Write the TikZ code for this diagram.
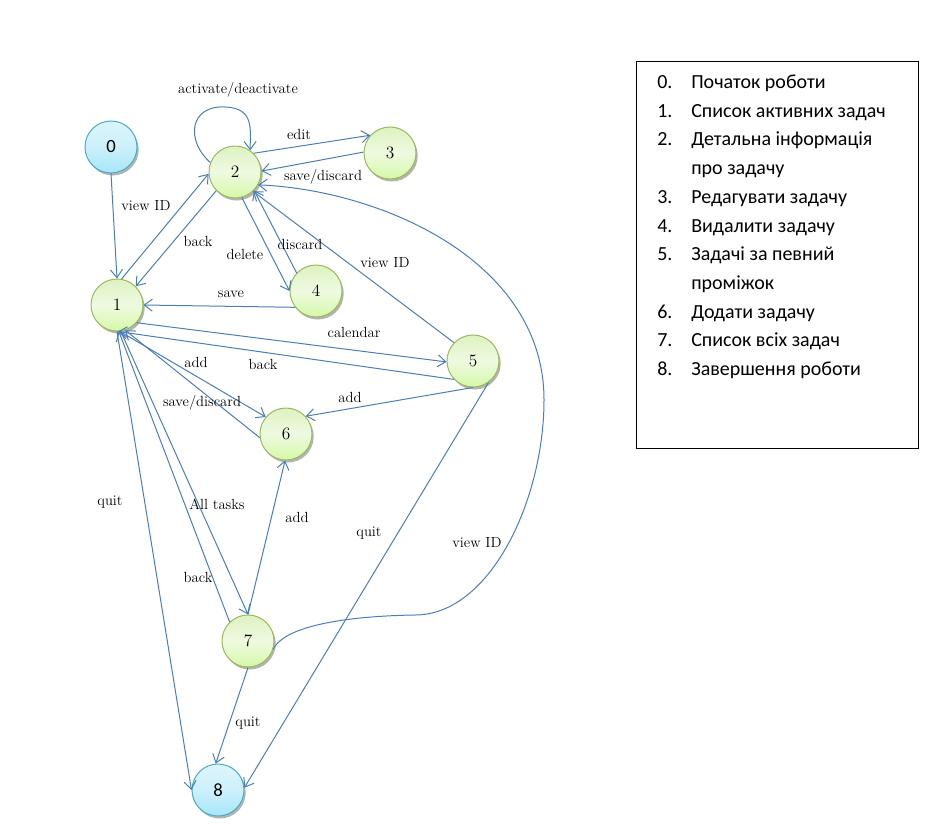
\documentclass[tikz,border=0pt]{standalone}
\usepackage{fontspec}
\newfontfamily\legendfont{Carlito}
\usetikzlibrary{arrows.meta,shadows}
\definecolor{edgeblue}{HTML}{4A7EBB}
\definecolor{gborder}{HTML}{9BBB59}
\definecolor{bborder}{HTML}{4BACC6}
\definecolor{gtop}{HTML}{DDF2C2}
\definecolor{gmid}{HTML}{EEFAE0}
\definecolor{gbot}{HTML}{D6F8A8}
\definecolor{btop}{HTML}{DDF5FC}
\definecolor{bmid}{HTML}{CDF0FB}
\definecolor{bbot}{HTML}{A6E6F9}
\tikzset{
  state/.style={circle, minimum size=39pt, inner sep=0pt, line width=0.75pt,
    font=\fontsize{13}{15}\selectfont,
    drop shadow={shadow xshift=1.3pt, shadow yshift=-1.9pt, fill=black!50, opacity=0.6}},
  gstate/.style={state, draw=gborder, top color=gtop, bottom color=gbot, middle color=gmid},
  bstate/.style={state, draw=bborder, top color=btop, bottom color=bbot, middle color=bmid,
    font=\legendfont\fontsize{14}{16}\selectfont},
  conn/.style={draw=edgeblue, line width=0.75pt, -{Straight Barb[length=6pt,width=9pt]}},
  lbl/.style={font=\fontsize{11}{13}\selectfont, inner sep=0pt},
  legtext/.style={font=\legendfont\fontsize{15}{18}\selectfont, inner sep=0pt, anchor=base west}
}
\begin{document}
\begin{tikzpicture}[x=0.75pt,y=-0.75pt]
\useasboundingbox (0,0) rectangle (941,838);
% states
\node[bstate] (n0) at (111,147) {0};
\node[gstate] (n1) at (117,305) {1};
\node[gstate] (n2) at (235,172) {2};
\node[gstate] (n3) at (390,153) {3};
\node[gstate] (n4) at (316,291) {4};
\node[gstate] (n5) at (473,361) {5};
\node[gstate] (n6) at (286,434) {6};
\node[gstate] (n7) at (248,641) {7};
\node[bstate] (n8) at (218,790) {8};
% connectors
\draw[conn] (n0.-90) -- (n1.90);
\draw[conn] (n1.80) -- (n2.184);
\draw[conn] (n2.225) -- (n1.45);
\draw[conn] (n2.-75) -- (n4.180);
\draw[conn] (n4.137) -- (n2.-44);
\draw[conn] (n2.159) .. controls (185,140) and (190,105) .. (225,107) .. controls (255,108) and (250,130) .. (n2.55);
\draw[conn] (n2.45) -- (n3.138);
\draw[conn] (n3.178) -- (n2.2);
\draw[conn] (n5.136) -- (n2.-47);
\draw[conn] (n7.-18) .. controls (285,625) and (350,616) .. (415,615) .. controls (490,615) and (544,500) .. (544,400) .. controls (544,260) and (380,190) .. (n2.-29);
\draw[conn] (n4.218) -- (n1.0);
\draw[conn] (n1.-42) -- (n5.182);
\draw[conn] (n5.224) -- (n1.-88);
\draw[conn] (n1.-84) -- (n6.140);
\draw[conn] (n6.188) -- (n1.-72);
\draw[conn] (n5.-90) -- (n6.42);
\draw[conn] (n1.-90) -- (n8.180);
\draw[conn] (n1.-82) -- (n7.90);
\draw[conn] (n7.134) -- (n1.-86);
\draw[conn] (n7.90) -- (n6.-92);
\draw[conn] (n7.-90) -- (n8.95);
\draw[conn] (n5.-54) -- (n8.5);
% labels
\node[lbl] (l1) at (238,90) {activate/deactivate};
\node[lbl] (l2) at (299,134) {edit};
\node[lbl] (l3) at (323,177) {save/discard};
\node[lbl] (l4) at (146,206) {view ID};
\node[lbl] (l5) at (198,241) {back};
\node[lbl] (l6) at (245,254) {delete};
\node[lbl] (l7) at (300,244) {discard};
\node[lbl] (l8) at (385,263) {view ID};
\node[lbl] (l9) at (231,294) {save};
\node[lbl] (l10) at (354,332) {calendar};
\node[lbl] (l11) at (196,362) {add};
\node[lbl] (l12) at (263,364) {back};
\node[lbl] (l13) at (350,397) {add};
\node[lbl] (l14) at (202,403) {save/discard};
\node[lbl] (l15) at (110,502) {quit};
\node[lbl] (l16) at (217,504) {All tasks};
\node[lbl] (l17) at (297,517) {add};
\node[lbl] (l18) at (369,533) {quit};
\node[lbl] (l19) at (477,543) {view ID};
\node[lbl] (l20) at (198,577) {back};
\node[lbl] (l21) at (248,723) {quit};
% legend
\node[draw=black, line width=0.75pt, minimum width=211.5pt, minimum height=289.5pt, inner sep=0pt] (legend) at (777.5,255) {};
\node[legtext] (k0) at (657,88.5) {0.};
\node[legtext] (t0) at (691,88.5) {Початок роботи};
\node[legtext] (k1) at (657,117.2) {1.};
\node[legtext] (t1) at (691,117.2) {Список активних задач};
\node[legtext] (k2) at (657,145.9) {2.};
\node[legtext] (t2) at (691,145.9) {Детальна інформація};
\node[legtext] (t2b) at (691,174.6) {про задачу};
\node[legtext] (k3) at (657,203.3) {3.};
\node[legtext] (t3) at (691,203.3) {Редагувати задачу};
\node[legtext] (k4) at (657,232) {4.};
\node[legtext] (t4) at (691,232) {Видалити задачу};
\node[legtext] (k5) at (657,260.7) {5.};
\node[legtext] (t5) at (691,260.7) {Задачі за певний};
\node[legtext] (t5b) at (691,289.4) {проміжок};
\node[legtext] (k6) at (657,318.1) {6.};
\node[legtext] (t6) at (691,318.1) {Додати задачу};
\node[legtext] (k7) at (657,346.8) {7.};
\node[legtext] (t7) at (691,346.8) {Список всіх задач};
\node[legtext] (k8) at (657,375.5) {8.};
\node[legtext] (t8) at (691,375.5) {Завершення роботи};
\end{tikzpicture}
\end{document}
